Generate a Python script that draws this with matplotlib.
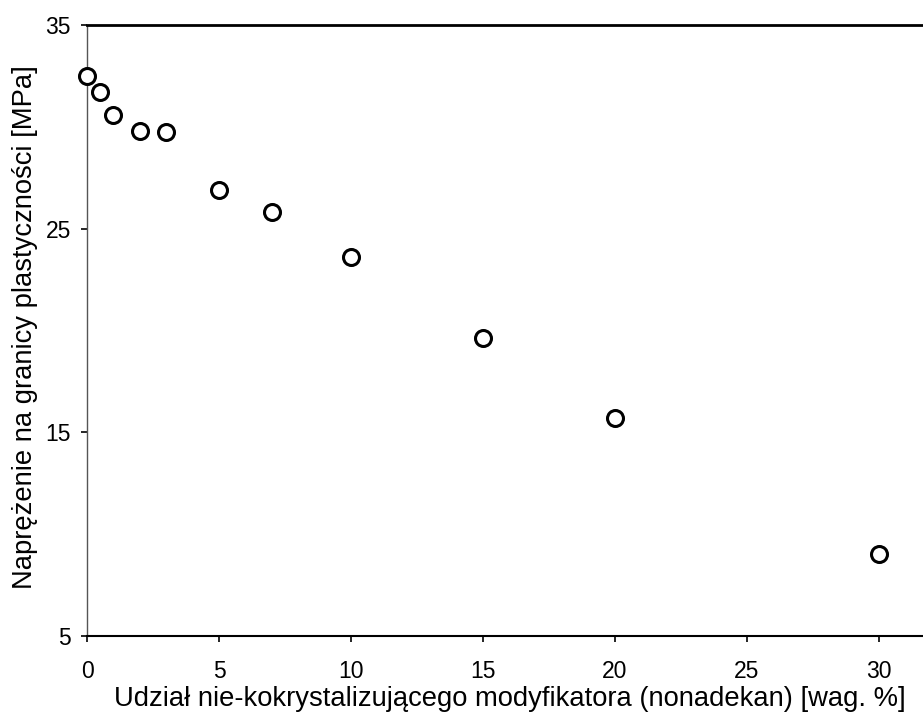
import matplotlib.pyplot as plt

plt.rcParams["font.family"] = ["Liberation Sans", "DejaVu Sans"]

# Data
content_pct = [0, 0.5, 1, 2, 3, 5, 7, 10, 15, 20, 30]
yield_stress = [32.5, 31.7, 30.6, 29.8, 29.75, 26.9, 25.8, 23.6, 19.65, 15.7, 9.05]
x_ticks = [0, 5, 10, 15, 20, 25, 30]
y_ticks = [5, 15, 25, 35]

fig = plt.figure(figsize=(9.23, 7.13), dpi=100)
ax = fig.add_axes([87 / 923, 77 / 713, 1 - 87 / 923, 611 / 713])

ax.plot(content_pct, yield_stress, linestyle="none", marker="o",
        markersize=11.5, markerfacecolor="white", markeredgecolor="black",
        markeredgewidth=2.2, clip_on=False, zorder=3)

ax.set_xlim(0, 31.67)
ax.set_ylim(5, 35)
ax.set_xticks(x_ticks)
ax.set_yticks(y_ticks)
ax.tick_params(direction="out", length=4.5, width=1.2, labelsize=16.5, color="black")
ax.tick_params(axis="x", pad=13)
ax.tick_params(axis="y", pad=7)

ax.spines["right"].set_visible(False)
ax.spines["left"].set_color("#555555")
ax.spines["left"].set_linewidth(1.0)
ax.spines["top"].set_linewidth(2.0)
ax.spines["bottom"].set_linewidth(1.5)

ax.set_xlabel("Udział nie-kokrystalizującego modyfikatora (nonadekan) [wag. %]",
              fontsize=19.7, va="baseline")
ax.xaxis.set_label_coords(0.506, -0.114)
ax.set_ylabel("Naprężenie na granicy plastyczności [MPa]", fontsize=19.7)
ax.yaxis.set_label_coords(-0.059, 0.506)

fig.savefig("out.png", dpi=100)
